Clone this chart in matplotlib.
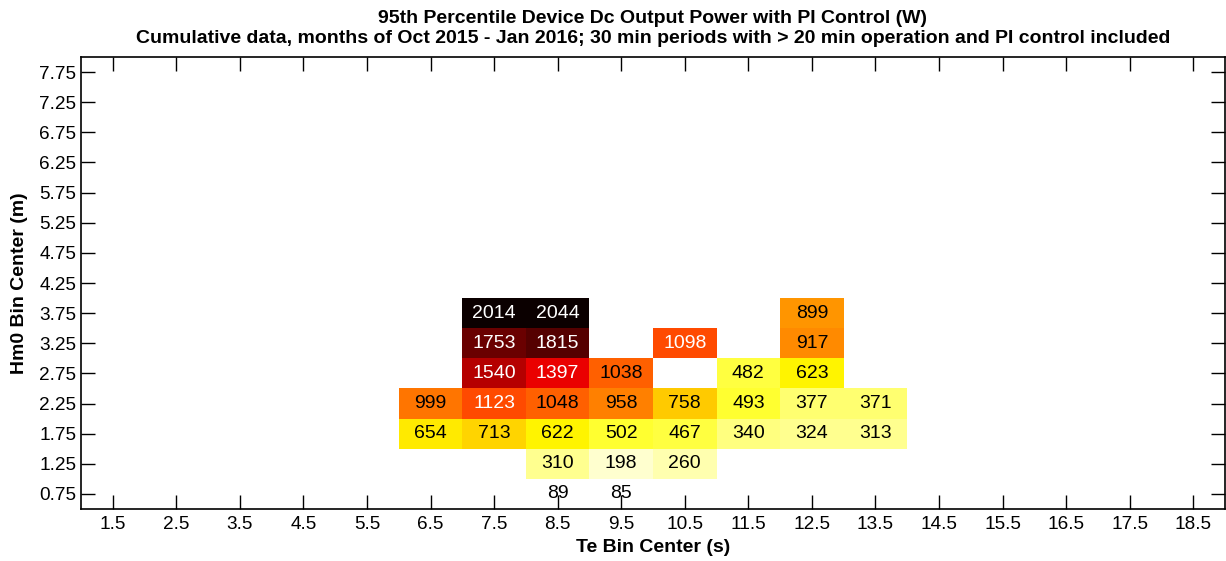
import numpy as np
import matplotlib
matplotlib.use("Agg")
import matplotlib.pyplot as plt

plt.rcParams['font.family'] = ['Liberation Sans', 'DejaVu Sans']

# bin centres
te_bins = [6.5, 7.5, 8.5, 9.5, 10.5, 11.5, 12.5, 13.5]
hm0_bins = [0.75, 1.25, 1.75, 2.25, 2.75, 3.25, 3.75]

# 95th percentile power (W), one list per Hm0 bin, None = no data
p_075 = [None, None, 89, 85, None, None, None, None]
p_125 = [None, None, 310, 198, 260, None, None, None]
p_175 = [654, 713, 622, 502, 467, 340, 324, 313]
p_225 = [999, 1123, 1048, 958, 758, 493, 377, 371]
p_275 = [None, 1540, 1397, 1038, None, 482, 623, None]
p_325 = [None, 1753, 1815, None, 1098, None, 917, None]
p_375 = [None, 2014, 2044, None, None, None, 899, None]

rows = [p_075, p_125, p_175, p_225, p_275, p_325, p_375]
vals = np.array([[np.nan if v is None else v for v in r] for r in rows], dtype=float)

fig = plt.figure(figsize=(12.26, 5.61), dpi=100)
ax = fig.add_axes([81 / 1226, 1 - 509 / 561, 1144 / 1226, 452 / 561])

# cell edges
te_edges = np.append(np.array(te_bins) - 0.5, te_bins[-1] + 0.5)
hm0_edges = np.append(np.array(hm0_bins) - 0.25, hm0_bins[-1] + 0.25)

# the lowest row is labelled but not filled (like matlab pcolor)
fill = vals.copy()
fill[0, :] = np.nan
vmin, vmax = np.nanmin(vals), np.nanmax(vals)
cmap = plt.get_cmap('hot_r', 64)
ax.pcolormesh(te_edges, hm0_edges, np.ma.masked_invalid(fill), cmap=cmap,
              vmin=vmin, vmax=vmax, shading='flat', edgecolors='none')

for i, h in enumerate(hm0_bins):
    for j, t in enumerate(te_bins):
        v = vals[i, j]
        if np.isnan(v):
            continue
        col = 'white' if v > 1060 else 'black'
        ax.text(t, h, f"{int(v)}", ha='center', va='center', fontsize=14, color=col)

ax.set_xlim(1, 19)
ax.set_ylim(0.5, 8)
ax.set_xticks(np.arange(1.5, 19, 1))
ax.set_xticklabels([f"{x:g}" for x in np.arange(1.5, 19, 1)])
ax.set_yticks(np.arange(0.75, 8, 0.5))
ax.set_yticklabels([f"{y:.2f}" for y in np.arange(0.75, 8, 0.5)])
ax.tick_params(direction='in', length=10, width=1, labelsize=13.7, top=True, right=True)
ax.tick_params(axis='x', pad=5)
ax.tick_params(axis='y', pad=3.5)
for s in ax.spines.values():
    s.set_linewidth(1.2)

ax.set_xlabel("Te Bin Center (s)", fontsize=14, fontweight='bold', labelpad=4)
ax.set_ylabel("Hm0 Bin Center (m)", fontsize=14, fontweight='bold', labelpad=8)
ax.set_title("95th Percentile Device Dc Output Power with PI Control (W)\n"
             "Cumulative data, months of Oct 2015 - Jan 2016; 30 min periods with > 20 min operation and PI control included",
             fontsize=14, fontweight='bold', pad=10, linespacing=1.25)

fig.savefig("out.png", dpi=100)
